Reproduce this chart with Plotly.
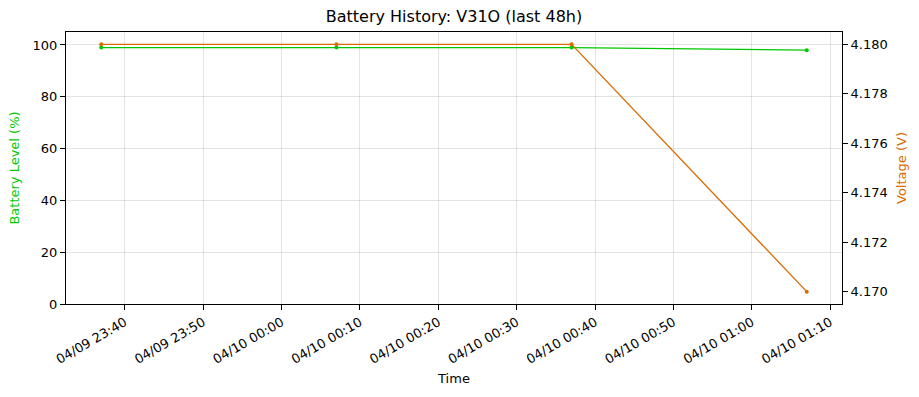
import plotly.graph_objects as go

times = ["2025-04-09 23:37:00", "2025-04-10 00:07:00", "2025-04-10 00:37:00", "2025-04-10 01:07:00"]
battery = [99, 99, 99, 98]
voltage = [4.180, 4.180, 4.180, 4.170]

GREEN = "#00c800"
ORANGE = "#d96b00"
FONT = "DejaVu Sans"

fig = go.Figure()
fig.add_trace(go.Scatter(x=times, y=battery, mode="lines+markers",
                         line=dict(color=GREEN, width=1.3), marker=dict(color=GREEN, size=4),
                         name="Battery", yaxis="y"))
fig.add_trace(go.Scatter(x=times, y=voltage, mode="lines+markers",
                         line=dict(color=ORANGE, width=1.3), marker=dict(color=ORANGE, size=4),
                         name="Voltage", yaxis="y2"))

axis_common = dict(showline=True, linecolor="black", linewidth=1, ticks="outside",
                   ticklen=5, tickcolor="black", tickfont=dict(family=FONT, size=13, color="black"),
                   zeroline=False)

fig.update_layout(
    width=919, height=397,
    margin=dict(l=66, r=77, t=32, b=93),
    paper_bgcolor="white", plot_bgcolor="white",
    showlegend=False,
    font=dict(family=FONT, size=13, color="black"),
    title=dict(text="Battery History: V31O (last 48h)", x=0.5, xanchor="center",
               y=1 - 16/397, yanchor="middle", xref="paper",
               font=dict(family=FONT, size=16, color="black")),
    xaxis=dict(**axis_common, mirror=True, type="date",
               range=["2025-04-09 23:32:30", "2025-04-10 01:11:30"],
               dtick=600000, tick0="2025-04-09 23:40:00", tickformat="%m/%d %H:%M",
               tickangle=-30, showgrid=True, gridcolor="rgba(176,176,176,0.35)", gridwidth=1,
               title=dict(text="Time", font=dict(family=FONT, size=13, color="black"), standoff=8)),
    yaxis=dict(**axis_common, range=[0, 105], dtick=20, tick0=0,
               showgrid=True, gridcolor="rgba(176,176,176,0.35)", gridwidth=1,
               title=dict(text="Battery Level (%)", font=dict(family=FONT, size=13, color=GREEN), standoff=10)),
    yaxis2=dict(**axis_common, overlaying="y", side="right", range=[4.1695, 4.1805],
                dtick=0.002, tick0=4.170, tickformat=".3f", showgrid=False,
                title=dict(text="Voltage (V)", font=dict(family=FONT, size=13, color=ORANGE), standoff=10)),
)

fig.write_html("out.html")
